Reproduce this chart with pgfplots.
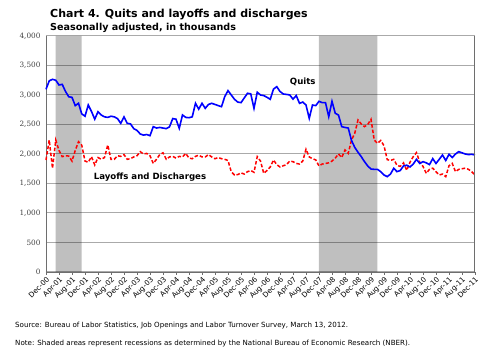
\documentclass[border=0pt]{standalone}
\usepackage{fontspec}
\setmainfont{DejaVu Sans}
\newfontfamily\yfont{DejaVu Serif}
\usepackage{pgfplots}
\pgfplotsset{compat=1.18}
\usepackage{pgfplotstable}
\definecolor{gridgray}{RGB}{170,170,170}
\definecolor{axgray}{RGB}{110,110,110}
\pgfplotstableread{
i quits layoffs
0 3097 1898
1 3240 2237
2 3266 1757
3 3250 2237
4 3170 2060
5 3180 1955
6 3060 1970
7 2970 1965
8 2960 1880
9 2820 2060
10 2860 2209
11 2680 2150
12 2640 1880
13 2830 1860
14 2720 1955
15 2590 1814
16 2717 1940
17 2660 1910
18 2630 1940
19 2620 2153
20 2640 1910
21 2630 1910
22 2600 1970
23 2520 1960
24 2630 1990
25 2520 1910
26 2510 1920
27 2430 1950
28 2400 1970
29 2339 2040
30 2320 2000
31 2330 2010
32 2310 1970
33 2463 1840
34 2440 1910
35 2450 1990
36 2440 2020
37 2430 1910
38 2460 1950
39 2600 1960
40 2590 1930
41 2435 1960
42 2661 1950
43 2620 2010
44 2615 1930
45 2630 1920
46 2859 1960
47 2760 1980
48 2860 1950
49 2774 1950
50 2840 1990
51 2859 1950
52 2840 1920
53 2820 1940
54 2802 1920
55 2972 1910
56 3074 1890
57 3000 1700
58 2927 1644
59 2880 1650
60 2870 1680
61 2950 1660
62 3029 1700
63 3020 1720
64 2774 1690
65 3046 1955
66 3000 1880
67 2990 1672
68 2961 1720
69 2927 1780
70 3100 1898
71 3141 1820
72 3060 1780
73 3017 1800
74 3010 1820
75 3000 1880
76 2930 1870
77 2990 1840
78 2859 1830
79 2880 1880
80 2830 2080
81 2605 1950
82 2830 1920
83 2820 1900
84 2893 1797
85 2870 1830
86 2870 1840
87 2633 1850
88 2893 1880
89 2690 1930
90 2660 2000
91 2463 1940
92 2450 2068
93 2440 2010
94 2230 2237
95 2113 2350
96 2030 2576
97 1955 2510
98 1870 2463
99 1797 2500
100 1745 2588
101 1740 2237
102 1740 2180
103 1700 2230
104 1644 2140
105 1616 1904
106 1660 1890
107 1757 1910
108 1701 1808
109 1720 1790
110 1797 1850
111 1810 1723
112 1780 1860
113 1830 1955
114 1910 2023
115 1840 1860
116 1870 1790
117 1850 1672
118 1820 1740
119 1921 1760
120 1840 1700
121 1910 1644
122 1983 1660
123 1890 1616
124 1994 1800
125 1940 1841
126 2000 1700
127 2040 1740
128 2020 1750
129 2000 1760
130 1990 1740
131 1995 1700
132 1983 1644
}\datatable
\begin{document}
\begin{tikzpicture}[x=1pt,y=1pt]
\path[use as bounding box] (0,0) rectangle (499,355);
\node[anchor=west,font=\bfseries\fontsize{11}{13}\selectfont,inner sep=0pt] at (50,340.5) {Chart 4. Quits and layoffs and discharges};
\node[anchor=west,font=\bfseries\fontsize{9.6}{11}\selectfont,inner sep=0pt] at (50,327.5) {Seasonally adjusted, in thousands};
\begin{axis}[
  at={(46pt,83pt)}, anchor=south west,
  scale only axis, width=429pt, height=236pt,
  xmin=0, xmax=132, ymin=0, ymax=4000,
  ytick={0,500,...,4000},
  xtick={0,4,...,132},
  xticklabels={Dec-00,Apr-01,Aug-01,Dec-01,Apr-02,Aug-02,Dec-02,Apr-03,Aug-03,Dec-03,Apr-04,Aug-04,Dec-04,Apr-05,Aug-05,Dec-05,Apr-06,Aug-06,Dec-06,Apr-07,Aug-07,Dec-07,Apr-08,Aug-08,Dec-08,Apr-09,Aug-09,Dec-09,Apr-10,Aug-10,Dec-10,Apr-11,Aug-11,Dec-11},
  x tick label style={rotate=45, anchor=north east, font=\fontsize{7.2}{8}\selectfont, inner sep=1pt},
  y tick label style={font=\yfont\fontsize{7.3}{8}\selectfont, text=black!75, xshift=-2pt},
  /pgf/number format/assume math mode=true,
  /pgf/number format/1000 sep={,},
  scaled y ticks=false,
  ymajorgrids, grid style={gridgray, line width=1pt},
  axis line style={axgray, line width=0.8pt},
  axis x line*=bottom, axis y line*=left,
  xtick style={axgray, line width=0.5pt}, xtick align=outside, major tick length=3pt,
  ytick style={draw=none},
  clip=false,
]
\addplot[draw=none, fill=black, fill opacity=0.25] coordinates {(3,0) (3,4000) (11,4000) (11,0)} \closedcycle;
\addplot[draw=none, fill=black, fill opacity=0.25] coordinates {(84,0) (84,4000) (102,4000) (102,0)} \closedcycle;
\addplot[red, line width=1.5pt, dash pattern=on 3.5pt off 2pt] table[x=i, y=layoffs] {\datatable};
\addplot[blue, line width=1.6pt] table[x=i, y=quits] {\datatable};
\draw[axgray, line width=1pt] (axis cs:132,0) -- (axis cs:132,4000);
\node[font=\bfseries\fontsize{8.6}{9}\selectfont] at (axis cs:79,3220) {Quits};
\node[font=\bfseries\fontsize{8.6}{9}\selectfont] at (axis cs:32,1615) {Layoffs and Discharges};
\end{axis}
\node[anchor=west,font=\fontsize{7.1}{8}\selectfont,inner sep=0pt] at (15,29.5) {Source: Bureau of Labor Statistics, Job Openings and Labor Turnover Survey, March 13, 2012.};
\node[anchor=west,font=\fontsize{7.1}{8}\selectfont,inner sep=0pt] at (15,11.5) {Note: Shaded areas represent recessions as determined by the National Bureau of Economic Research (NBER).};
\end{tikzpicture}
\end{document}
